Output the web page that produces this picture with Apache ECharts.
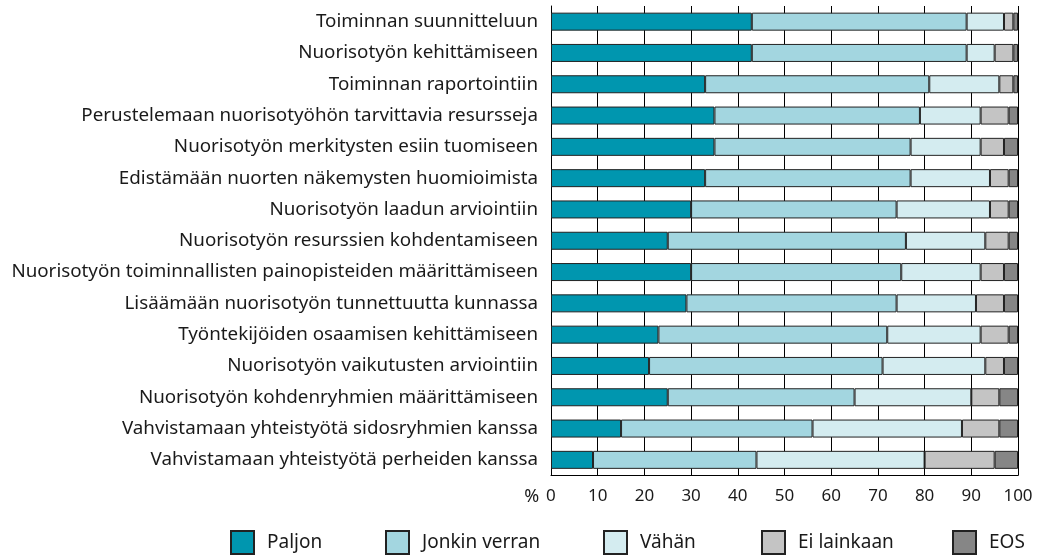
<!DOCTYPE html>
<html>
<head>
<meta charset="utf-8">
<script src="https://cdn.jsdelivr.net/npm/echarts@6/dist/echarts.min.js"></script>
<style>
html,body{margin:0;padding:0;background:#fff;}
#chart{width:1041px;height:556px;}
</style>
</head>
<body>
<div id="chart"></div>
<script>
const categories = [
  "Toiminnan suunnitteluun",
  "Nuorisotyön kehittämiseen",
  "Toiminnan raportointiin",
  "Perustelemaan nuorisotyöhön tarvittavia resursseja",
  "Nuorisotyön merkitysten esiin tuomiseen",
  "Edistämään nuorten näkemysten huomioimista",
  "Nuorisotyön laadun arviointiin",
  "Nuorisotyön resurssien kohdentamiseen",
  "Nuorisotyön toiminnallisten painopisteiden määrittämiseen",
  "Lisäämään nuorisotyön tunnettuutta kunnassa",
  "Työntekijöiden osaamisen kehittämiseen",
  "Nuorisotyön vaikutusten arviointiin",
  "Nuorisotyön kohdenryhmien määrittämiseen",
  "Vahvistamaan yhteistyötä sidosryhmien kanssa",
  "Vahvistamaan yhteistyötä perheiden kanssa"
];
const seriesNames = ["Paljon", "Jonkin verran", "Vähän", "Ei lainkaan", "EOS"];
const paljon       = [43, 43, 33, 35, 35, 33, 30, 25, 30, 29, 23, 21, 25, 15, 9];
const jonkinVerran = [46, 46, 48, 44, 42, 44, 44, 51, 45, 45, 49, 50, 40, 41, 35];
const vahan        = [8, 6, 15, 13, 15, 17, 20, 17, 17, 17, 20, 22, 25, 32, 36];
const eiLainkaan   = [2, 4, 3, 6, 5, 4, 4, 5, 5, 6, 6, 4, 6, 8, 15];
const eos          = [1, 1, 1, 2, 3, 2, 2, 2, 3, 3, 2, 3, 4, 4, 5];
const xTicks = [0, 10, 20, 30, 40, 50, 60, 70, 80, 90, 100];

const values = [paljon, jonkinVerran, vahan, eiLainkaan, eos];
const colors = ["#0096AF", "#A3D6E0", "#D4ECF0", "#C4C4C4", "#868686"];
const legendLeft = [230, 385, 603, 761, 952];
const FONT = "Noto Sans";

const chart = echarts.init(document.getElementById('chart'), null, {renderer: 'canvas'});
const option = {
  animation: false,
  backgroundColor: '#fff',
  textStyle: {fontFamily: FONT},
  grid: {left: 551, right: 23, top: 6, bottom: 80.5, containLabel: false},
  legend: seriesNames.map((n, i) => ({
    data: [n],
    left: legendLeft[i],
    top: 530,
    padding: 0,
    itemWidth: 23,
    itemHeight: 23,
    icon: 'rect',
    selectedMode: false,
    textStyle: {fontFamily: FONT, fontSize: 19, lineHeight: 23, color: '#1a1a1a', padding: [0, 0, 0, 8]}
  })),
  xAxis: {
    type: 'value',
    min: xTicks[0],
    max: xTicks[xTicks.length - 1],
    interval: 10,
    axisLine: {show: true, lineStyle: {color: '#000', width: 1}},
    axisTick: {show: false},
    splitLine: {show: true, lineStyle: {color: '#000', width: 1}},
    axisLabel: {
      margin: 12,
      fontFamily: FONT,
      fontSize: 17,
      color: '#1a1a1a',
      formatter: v => v === 0 ? '{p|%}{g|}0{pad|}' : String(v),
      rich: {
        p: {fontFamily: FONT, fontSize: 18, color: '#1a1a1a'},
        g: {width: 7},
        pad: {width: 22}
      }
    }
  },
  yAxis: {
    type: 'category',
    data: categories,
    inverse: true,
    axisLine: {show: true, lineStyle: {color: '#000', width: 1}},
    axisTick: {show: false},
    axisLabel: {margin: 13, fontFamily: FONT, fontSize: 18.8, color: '#1a1a1a'}
  },
  series: seriesNames.map((n, i) => ({
    name: n,
    type: 'bar',
    stack: 'total',
    barWidth: 18,
    data: values[i],
    itemStyle: {color: colors[i], borderColor: '#222', borderWidth: 1},
    emphasis: {disabled: true}
  }))
};
chart.setOption(option);
</script>
</body>
</html>
